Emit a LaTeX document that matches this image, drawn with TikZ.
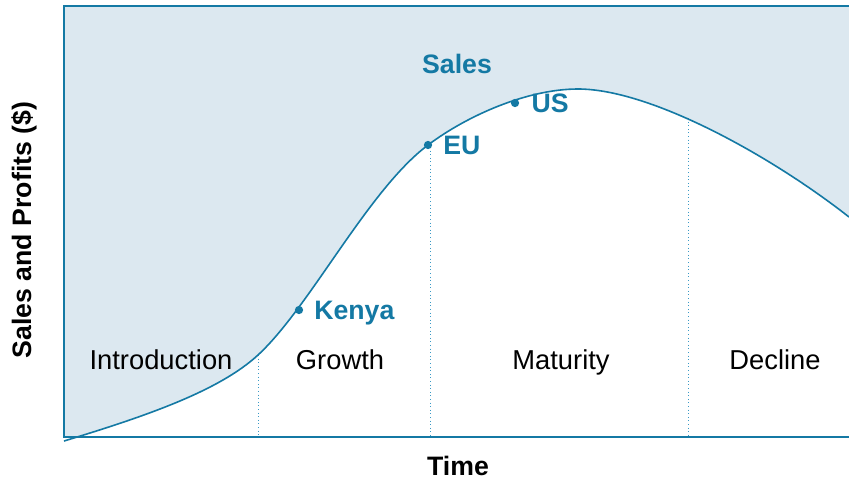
\documentclass[tikz,border=0pt]{standalone}
\usepackage{fontspec}
\setmainfont{Liberation Sans}
\usetikzlibrary{positioning}

\definecolor{lineblue}{HTML}{1479A4}
\definecolor{fillblue}{HTML}{DCE8F0}
\definecolor{dotblue}{HTML}{3A9AC6}

\newcommand{\salescurve}{(64,441) .. controls (150,415) and (220,390) .. (258,355)
  .. controls (310,307) and (368,190) .. (428,145)
  .. controls (468,115) and (528,89) .. (578,89)
  .. controls (650,89) and (770,155) .. (849,217)}

\begin{document}
\begin{tikzpicture}[
  x=0.75pt, y=-0.75pt,
  every node/.style={font=\fontsize{20}{24}\selectfont},
  stage/.style={anchor=base, text=black, font=\fontsize{20.5}{24}\selectfont},
  title/.style={anchor=base, font=\fontsize{20}{24}\selectfont\bfseries},
  market/.style={text=lineblue, font=\fontsize{20}{24}\selectfont\bfseries, inner sep=0pt, text height=14pt, text depth=0pt},
  marker/.style={circle, fill=lineblue, inner sep=0pt, minimum size=6.2pt},
  axis/.style={draw=lineblue, line width=1.1pt},
  curve/.style={draw=lineblue, line width=1.2pt},
  boundary/.style={draw=dotblue, dotted, line width=0.7pt}
]
\useasboundingbox (0,0) rectangle (849,479);

% background above and below the curve
\fill[fillblue] (64,6) rectangle (849,437);
\fill[white] \salescurve -- (849,446) -- (64,446) -- cycle;

% stage boundaries
\coordinate (introend) at (258,355);
\coordinate (growthend) at (430,147);
\coordinate (maturityend) at (688,118);
\draw[boundary] (introend) -- (introend |- 0,437);
\draw[boundary] (growthend) -- (growthend |- 0,437);
\draw[boundary] (maturityend) -- (maturityend |- 0,437);

% frame
\draw[axis] (849,6) -- (64,6) -- (64,437) -- (849,437);

\draw[curve] \salescurve;

% markets along the curve
\node[marker] (kenya) at (299,310) {};
\node[marker] (eu) at (428,145) {};
\node[marker] (us) at (515,103) {};
\node[market, right=8pt of kenya] (kenyalabel) {Kenya};
\node[market, right=8pt of eu] (eulabel) {EU};
\node[market, right=9pt of us] (uslabel) {US};

\node[title, text=lineblue] (sales) at (457,73) {Sales};

% stages
\node[stage] (intro) at (161,369) {Introduction};
\node[stage] (growth) at (340,369) {Growth};
\node[stage] (maturity) at (561,369) {Maturity};
\node[stage] (decline) at (775,369) {Decline};

% axis titles
\node[title] (time) at (458,475) {Time};
\node[font=\fontsize{20}{24}\selectfont\bfseries, rotate=90] (yaxis) at (24,230) {Sales and Profits (\$)};

\end{tikzpicture}
\end{document}
